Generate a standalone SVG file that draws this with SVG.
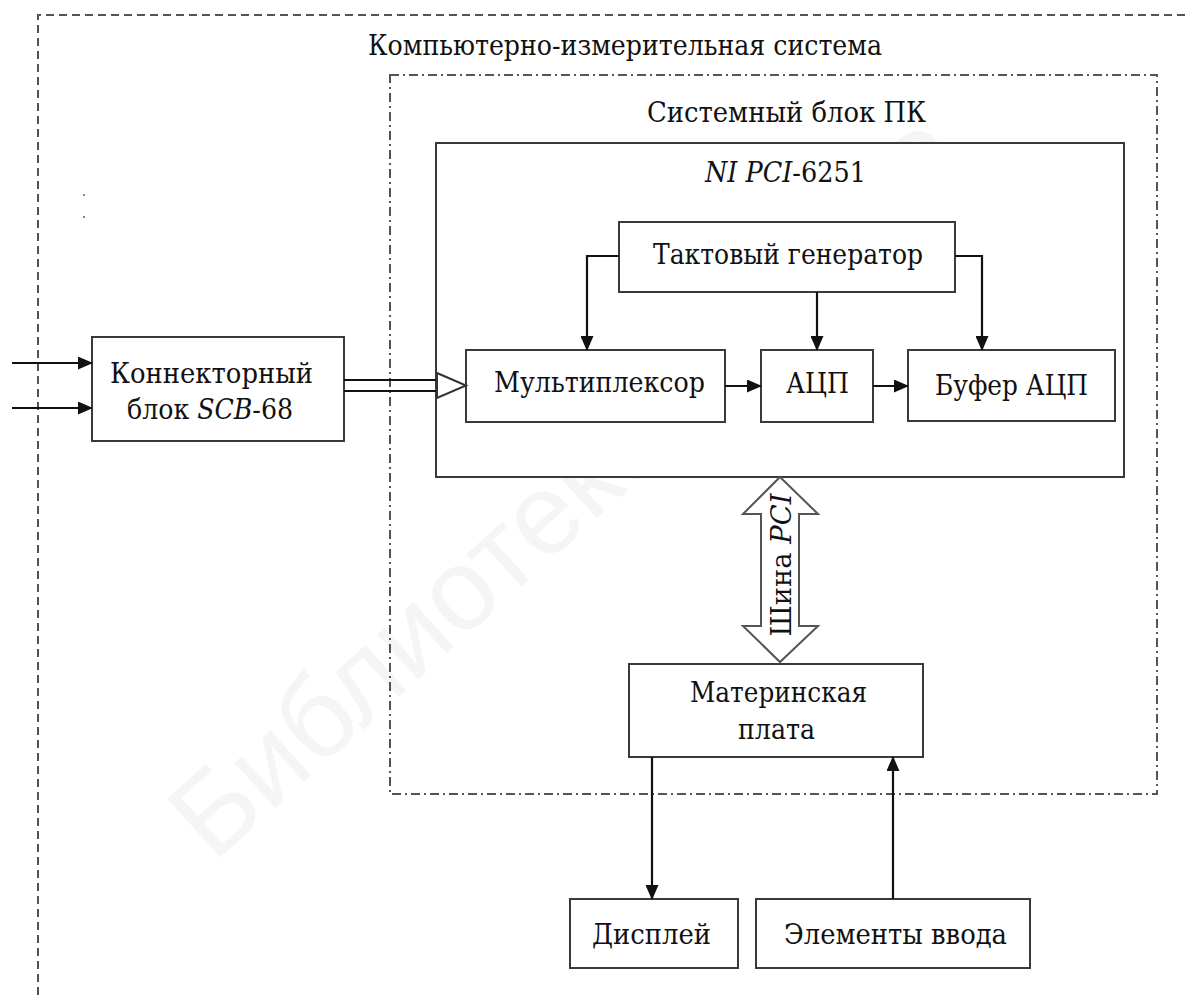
<svg xmlns="http://www.w3.org/2000/svg" width="1185" height="995" viewBox="0 0 1185 995">
<style>
.t{font-family:"DejaVu Serif Condensed","DejaVu Serif",serif;font-size:28px;fill:#111;text-anchor:middle}
.i{font-style:italic}
.box{fill:#fff;stroke:#3a3a3a;stroke-width:2}
.ln{fill:none;stroke:#111;stroke-width:2.2}
.wm{font-family:"Liberation Sans",Arial,sans-serif;font-size:115px;fill:#f5f5f5;text-anchor:middle}
</style>
<defs>
<marker id="ah" markerWidth="15" markerHeight="13" refX="14" refY="6.5" orient="auto" markerUnits="userSpaceOnUse">
<path d="M0,0 L15,6.5 L0,13 Z" fill="#111"/>
</marker>
</defs>
<rect width="1185" height="995" fill="#fff"/>
<text class="wm" transform="translate(595,520) rotate(-42)">Библиотека БГУИР</text>
<g id="outer-system">
<path d="M38,995 V15 H1185" fill="none" stroke="#555" stroke-width="2" stroke-dasharray="8 5"/>
<text class="t" x="625" y="55" textLength="514" lengthAdjust="spacingAndGlyphs">Компьютерно-измерительная система</text>
</g>
<g id="pc-unit">
<rect x="390" y="75" width="767" height="719" fill="none" stroke="#555" stroke-width="2" stroke-dasharray="9 4 2 4"/>
<text class="t" x="786.5" y="122" textLength="279" lengthAdjust="spacingAndGlyphs">Системный блок ПК</text>
</g>
<g id="marks"><rect x="83" y="194" width="2" height="2" fill="#c87a3a"/><rect x="83" y="216" width="2" height="2" fill="#c87a3a"/></g>
<g id="ni-card">
<rect class="box" x="436" y="143" width="688" height="334"/>
<text class="t" x="785.5" y="182" textLength="161" lengthAdjust="spacingAndGlyphs"><tspan class="i">NI PCI</tspan>-6251</text>
</g>
<g id="clock"><rect class="box" x="619" y="222" width="336" height="70"/><text class="t" x="788" y="264" textLength="270" lengthAdjust="spacingAndGlyphs">Тактовый генератор</text></g>
<g id="mux"><rect class="box" x="466" y="350" width="259" height="72"/><text class="t" x="599.5" y="392" textLength="211" lengthAdjust="spacingAndGlyphs">Мультиплексор</text></g>
<g id="adc"><rect class="box" x="761" y="350" width="112" height="72"/><text class="t" x="817.5" y="393" textLength="63" lengthAdjust="spacingAndGlyphs">АЦП</text></g>
<g id="buffer"><rect class="box" x="908" y="350" width="207" height="71"/><text class="t" x="1011.5" y="395" textLength="153" lengthAdjust="spacingAndGlyphs">Буфер АЦП</text></g>
<g id="connector-block"><rect class="box" x="92" y="337" width="252" height="104"/><text class="t" x="211.5" y="383" textLength="203" lengthAdjust="spacingAndGlyphs">Коннекторный</text><text class="t" x="210" y="419" textLength="166" lengthAdjust="spacingAndGlyphs">блок <tspan class="i">SCB</tspan>-68</text></g>
<g id="motherboard"><rect class="box" x="629" y="664" width="294" height="93"/><text class="t" x="778.5" y="702" textLength="177" lengthAdjust="spacingAndGlyphs">Материнская</text><text class="t" x="776.5" y="739" textLength="77" lengthAdjust="spacingAndGlyphs">плата</text></g>
<g id="display"><rect class="box" x="570" y="899" width="168" height="69"/><text class="t" x="651.5" y="944" textLength="119" lengthAdjust="spacingAndGlyphs">Дисплей</text></g>
<g id="input"><rect class="box" x="756" y="899" width="274" height="69"/><text class="t" x="895.5" y="944" textLength="223" lengthAdjust="spacingAndGlyphs">Элементы ввода</text></g>
<g id="connectors">
<path class="ln" d="M12,363 H92" marker-end="url(#ah)"/>
<path class="ln" d="M12,408 H92" marker-end="url(#ah)"/>
<path class="ln" d="M344,380 H437 M344,391 H437"/>
<polygon points="437,373 466,385.5 437,398" fill="#fff" stroke="#333" stroke-width="2"/>
<path class="ln" d="M619,256 H587 V350" marker-end="url(#ah)"/>
<path class="ln" d="M817,292 V350" marker-end="url(#ah)"/>
<path class="ln" d="M955,256 H982 V350" marker-end="url(#ah)"/>
<path class="ln" d="M725,386 H761" marker-end="url(#ah)"/>
<path class="ln" d="M873,386 H908" marker-end="url(#ah)"/>
<path class="ln" d="M652,757 V899" marker-end="url(#ah)"/>
<path class="ln" d="M893,899 V757" marker-end="url(#ah)"/>
<polygon points="780,477 818,514 799,514 799,626 818,626 780,662 743,626 761,626 761,514 743,514" fill="#fff" stroke="#555" stroke-width="2"/>
<text class="t" transform="translate(791,565) rotate(-90)" textLength="143" lengthAdjust="spacingAndGlyphs">Шина <tspan class="i">PCI</tspan></text>
</g>
</svg>
